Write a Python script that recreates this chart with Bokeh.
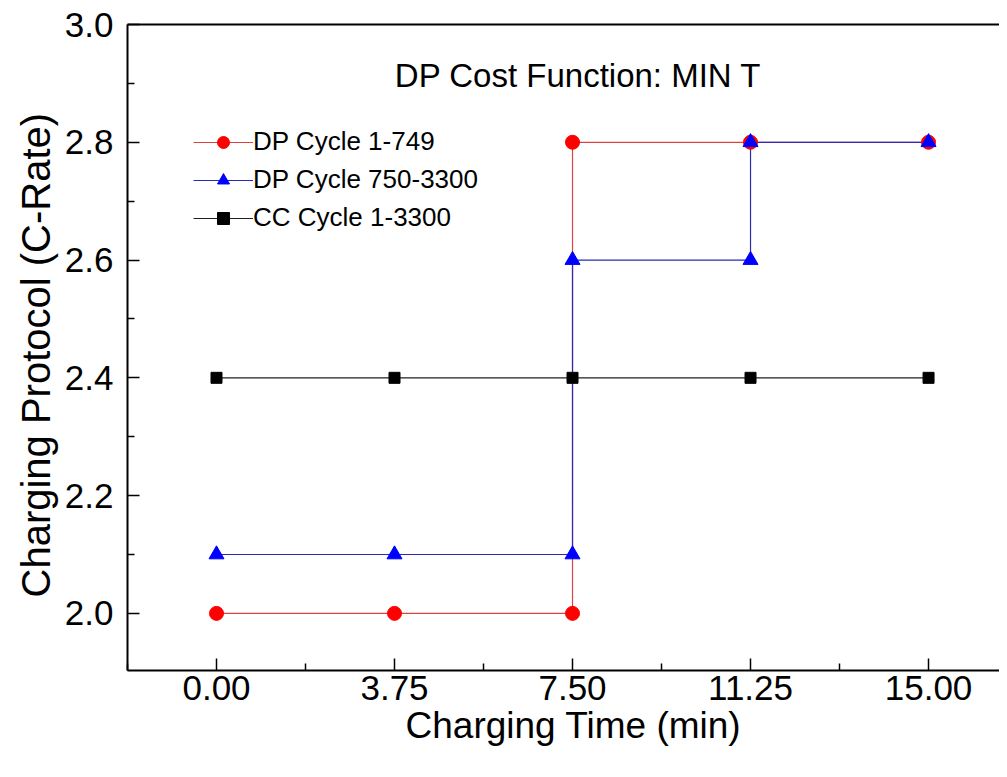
from bokeh.plotting import figure
from bokeh.models import Range1d, FixedTicker, LinearAxis, Label, Title, NumeralTickFormatter
from bokeh.embed import file_html
from bokeh.resources import INLINE

# ---- data ----
dp1_x = [0.0, 3.75, 7.5, 7.5, 11.25, 15.0]
dp1_y = [2.0, 2.0, 2.0, 2.8, 2.8, 2.8]
dp2_x = [0.0, 3.75, 7.5, 7.5, 11.25, 11.25, 15.0]
dp2_y = [2.1, 2.1, 2.1, 2.6, 2.6, 2.8, 2.8]
cc_x = [0.0, 3.75, 7.5, 11.25, 15.0]
cc_y = [2.4, 2.4, 2.4, 2.4, 2.4]

x_ticks = [0.0, 3.75, 7.5, 11.25, 15.0]
x_minor = [-1.875, 1.875, 5.625, 9.375, 13.125, 16.875]
y_ticks = [2.0, 2.2, 2.4, 2.6, 2.8, 3.0]
y_minor = [1.9, 2.1, 2.3, 2.5, 2.7, 2.9]

names = ["DP Cycle 1-749", "DP Cycle 750-3300", "CC Cycle 1-3300"]
title_text = "DP Cost Function: MIN T"
x_title = "Charging Time (min)"
y_title = "Charging Protocol (C-Rate)"
FONT = "Liberation Sans"

p = figure(width=999, height=760, output_backend="svg", toolbar_location=None,
           x_range=Range1d(-1.875, 16.495), y_range=Range1d(1.903, 3.0),
           min_border_left=127, min_border_top=24, min_border_right=0, min_border_bottom=90,
           outline_line_color=None)
p.grid.visible = False

for ax in (p.xaxis[0], p.yaxis[0]):
    ax.axis_line_width = 2
    ax.axis_line_color = "black"
    ax.major_tick_in = 12
    ax.major_tick_out = 0
    ax.minor_tick_in = 7
    ax.minor_tick_out = 0
    ax.major_tick_line_width = 1.5
    ax.minor_tick_line_width = 1.5
    ax.major_label_text_font = FONT
    ax.major_label_text_font_size = "35px"
    ax.major_label_text_color = "black"

p.xaxis[0].ticker = FixedTicker(ticks=x_ticks, minor_ticks=x_minor)
p.xaxis[0].formatter = NumeralTickFormatter(format="0.00")
p.xaxis[0].major_label_standoff = 5

p.yaxis[0].ticker = FixedTicker(ticks=y_ticks, minor_ticks=y_minor)
p.yaxis[0].formatter = NumeralTickFormatter(format="0.0")
p.yaxis[0].major_label_standoff = 14

top = LinearAxis(ticker=FixedTicker(ticks=[]), major_label_text_font_size="0px",
                 axis_line_width=2, axis_line_color="black",
                 major_tick_line_color=None, minor_tick_line_color=None)
p.add_layout(top, "above")

p.add_layout(Title(text=y_title, align="left", offset=73, standoff=8,
                   text_font=FONT, text_font_size="40px", text_font_style="normal",
                   text_color="black"), "left")
p.add_layout(Title(text=x_title, align="left", offset=278, standoff=0,
                   text_font=FONT, text_font_size="37px", text_font_style="normal",
                   text_color="black"), "below")

# lines
p.line(dp1_x, dp1_y, line_color="#e04040", line_width=1.2, legend_label=names[0])
p.line(dp2_x, dp2_y, line_color="#2a2ab8", line_width=1.2, legend_label=names[1])
p.line(cc_x, cc_y, line_color="#202020", line_width=1.2, legend_label=names[2])
# markers
p.scatter(dp1_x, dp1_y, marker="circle", size=14, fill_color="#ff0000", line_color="#ff0000", legend_label=names[0])
p.scatter(dp2_x, dp2_y, marker="triangle", size=15, fill_color="#0000ff", line_color="#0000ff", legend_label=names[1])
p.scatter(cc_x, cc_y, marker="square", size=11, fill_color="black", line_color="black", legend_label=names[2])

lg = p.legend[0]
lg.location = (66, 437)
lg.padding = 0
lg.margin = 0
lg.spacing = 7
lg.glyph_width = 60
lg.glyph_height = 30
lg.label_height = 30
lg.label_standoff = 0
lg.border_line_color = None
lg.background_fill_alpha = 0
lg.label_text_font = FONT
lg.label_text_font_size = "26px"
lg.label_text_color = "black"

p.add_layout(Label(x=7.62, y=2.913, text=title_text, text_align="center", text_baseline="middle",
                   text_font=FONT, text_font_size="33px", text_color="black"))

open("out.html", "w").write(file_html(p, INLINE))
